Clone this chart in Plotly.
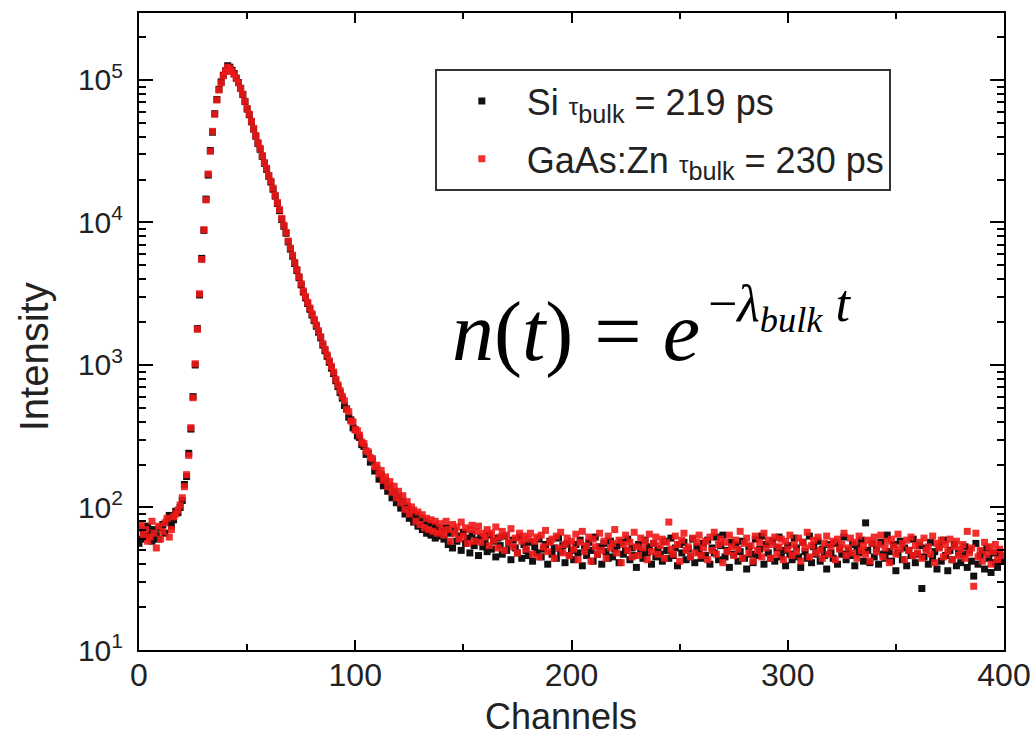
import plotly.graph_objects as go

# ---------------- data ----------------
# Si (black) series, intensity per channel
si_pre = [56, 60, 68, 62, 74, 66, 58, 70, 64, 60, 72, 76, 66, 80, 88, 74, 82, 94, 92, 100]
si_rise = [112, 145, 165, 240, 355, 600, 1000, 1800, 3100, 5600, 8800, 14600, 21500, 32000,
           43000, 58000, 73000, 86000, 97000, 108000, 116000]
si_decay = [126000, 123000, 117000, 111000, 103000, 96000, 87500, 79000, 70500, 62500,
            57000, 50800, 45200, 40300, 35900, 32600, 29100, 26000, 23600, 21100,
            19200, 17100, 15300, 13600, 12100, 10500, 9400, 8400, 7300, 6500,
            5800, 5150, 4600, 4100, 3650, 3250, 2960, 2700, 2460, 2240,
            2050, 1870, 1700, 1550, 1380, 1260, 1150, 1045, 950, 870,
            775, 705, 640, 585, 520, 492, 430, 412, 362, 351,
            318, 310, 276, 268, 236, 238, 208, 212, 180, 186,
            158, 170, 142, 155, 130, 142, 117, 130, 108, 120,
            99, 111, 90, 102, 84, 94, 79, 88, 74, 84,
            70, 80, 66, 77, 64, 74, 61, 72, 63, 68]
si_tail = [60, 72, 55, 66, 52, 69, 58, 63, 50, 67, 56, 61, 48, 65, 54, 59, 46, 62, 53, 57,
           49, 64, 51, 58, 45, 61, 54, 47, 63, 50, 56, 43, 59, 52, 48, 62, 44, 55, 50, 46,
           57, 42, 53, 48, 60, 45, 51, 55, 40, 58, 47, 52, 44, 61, 49, 54, 41, 56, 46, 50,
           43, 55, 48, 59, 39, 52, 46, 57, 50, 42, 62, 47, 53, 40, 56, 49, 44, 58, 45, 51,
           54, 41, 57, 47, 50, 60, 43, 52, 46, 38, 55, 49, 44, 59, 48, 53, 40, 56, 45, 51,
           47, 42, 58, 50, 44, 61, 46, 52, 39, 55, 48, 57, 43, 51, 45, 60, 41, 53, 49, 44,
           56, 46, 59, 40, 52, 48, 62, 43, 54, 64, 45, 50, 38, 57, 47, 55, 42, 49, 58, 44,
           37, 53, 47, 41, 60, 46, 51, 63, 40, 55, 48, 44, 58, 42, 52, 62, 45, 50, 39, 54,
           47, 43, 61, 52, 45, 38, 57, 49, 44, 63, 41, 53, 47, 58, 42, 51, 46, 37, 55, 48,
           44, 56, 40, 52, 47, 62, 43, 50, 46, 55, 39, 53, 48, 59, 42, 78, 50, 41, 56, 45,
           51, 40, 57, 47, 44, 64, 49, 42, 55, 36, 48, 58, 43, 52, 39, 50, 46, 60, 41, 47,
           54, 27, 45, 52, 40, 57, 44, 49, 37, 53, 42, 59, 46, 36, 50, 43, 55, 39, 48, 41,
           47, 53, 38, 50, 42, 33, 56, 40, 46, 49, 37, 52, 44, 35, 48, 41, 38, 47, 42]

# GaAs:Zn (red) series, intensity per channel
gaas_pre = [72, 76, 64, 70, 58, 62, 80, 66, 52, 74, 60, 68, 78, 84, 62, 70, 86, 90, 96, 104]
gaas_rise = [117, 140, 170, 232, 363, 589, 1020, 1780, 3160, 5500, 8900, 14400, 21900, 31600,
             43600, 57500, 72400, 85100, 95500, 107000, 115000]
gaas_decay = [123000, 120200, 114800, 109600, 102300, 95500, 87100, 79400, 70800, 63100,
              57500, 51300, 45700, 40700, 36300, 33100, 29500, 26300, 24000, 21400,
              19500, 17400, 15500, 13800, 12300, 10700, 9550, 8510, 7410, 6610,
              5890, 5250, 4680, 4170, 3720, 3310, 3020, 2750, 2510, 2290,
              2090, 1910, 1740, 1580, 1410, 1290, 1175, 1070, 977, 891,
              794, 724, 661, 603, 560, 488, 470, 405, 398, 352,
              346, 322, 288, 281, 250, 246, 224, 220, 193, 198,
              172, 182, 155, 164, 140, 152, 128, 141, 117, 130,
              108, 121, 97, 110, 90, 101, 96, 80, 93, 76,
              89, 72, 84, 70, 82, 68, 80, 66, 77, 69]
gaas_tail = [64, 80, 70, 58, 76, 66, 73, 60, 79, 63, 72, 56, 70, 75, 58, 68, 74, 57, 66, 62,
             70, 54, 66, 59, 73, 52, 62, 68, 50, 64, 57, 71, 53, 61, 48, 66, 58, 63, 51, 60,
             66, 47, 58, 62, 45, 64, 53, 69, 49, 57, 60, 44, 63, 52, 67, 48, 55, 61, 46, 58,
             51, 65, 43, 57, 68, 49, 54, 62, 42, 60, 53, 47, 66, 50, 58, 44, 63, 52, 56, 70,
             48, 59, 41, 55, 64, 50, 57, 45, 67, 53, 46, 61, 52, 58, 43, 65, 49, 56, 62, 47,
             54, 60, 44, 57, 79, 51, 47, 63, 55, 42, 59, 66, 50, 53, 45, 61, 48, 57, 64, 46,
             52, 58, 43, 62, 50, 67, 47, 55, 60, 41, 57, 49, 64, 53, 46, 59, 51, 68, 44, 56,
             61, 48, 54, 42, 63, 50, 57, 45, 66, 52, 59, 44, 55, 62, 47, 53, 60, 43, 58, 51,
             64, 46, 55, 49, 61, 42, 57, 52, 67, 45, 54, 59, 48, 62, 50, 44, 56, 63, 47, 53,
             58, 43, 60, 51, 55, 66, 46, 52, 61, 48, 57, 44, 63, 50, 54, 47, 59, 42, 56, 62,
             49, 55, 64, 45, 52, 58, 41, 60, 53, 47, 65, 51, 56, 43, 59, 50, 62, 46, 54, 48,
             57, 44, 61, 50, 53, 47, 63, 41, 56, 52, 59, 45, 55, 49, 60, 43, 53, 58, 46, 51,
             55, 44, 68, 48, 52, 28, 66, 45, 50, 42, 57, 47, 53, 40, 49, 55, 43, 51, 46]

si_name = "Si <span style='font-size:24px'>τ</span><sub>bulk</sub> = 219 ps"
gaas_name = "GaAs:Zn <span style='font-size:24px'>τ</span><sub>bulk</sub> = 230 ps"

x_ticks = [0, 100, 200, 300, 400]
x_minor_ticks = [50, 150, 250, 350]
y_ticks = [10, 100, 1000, 10000, 100000]
y_tick_text = ["10<sup>1</sup>", "10<sup>2</sup>", "10<sup>3</sup>", "10<sup>4</sup>", "10<sup>5</sup>"]
y_minor_ticks = [m * d for d in (10, 100, 1000, 10000, 100000) for m in range(2, 10)]

# ---------------- build ----------------
si = si_pre + si_rise + si_decay + si_tail
gaas = gaas_pre + gaas_rise + gaas_decay + gaas_tail
assert len(si) == 400 and len(gaas) == 400, (len(si), len(gaas))
channels = list(range(len(si)))

SANS = "Liberation Sans, Arial, sans-serif"
SERIF = "Liberation Serif, Times New Roman, serif"
TXT = "#222222"

fig = go.Figure()
fig.add_trace(go.Scatter(
    x=channels, y=si, mode="markers", name=si_name, legendgroup="si",
    marker=dict(symbol="square", size=7, color="#111111", line=dict(width=0)),
))
fig.add_trace(go.Scatter(
    x=channels, y=gaas, mode="markers", name=gaas_name, legendgroup="gaas",
    marker=dict(symbol="square", size=7, color="#f01818", opacity=0.9, line=dict(width=0)),
))

fig.update_layout(
    width=1034, height=736,
    margin=dict(l=139, r=30, t=13, b=86, autoexpand=False),
    plot_bgcolor="white", paper_bgcolor="white",
    showlegend=True,
    legend=dict(
        x=0.342, y=0.912, xanchor="left", yanchor="top",
        bgcolor="white", bordercolor="#333333", borderwidth=2,
        font=dict(family=SANS, size=36, color=TXT),
        traceorder="grouped", tracegroupgap=8, itemwidth=80,
    ),
)

fig.update_xaxes(
    range=[0, 400], tickvals=x_ticks, ticks="inside", ticklen=10, tickwidth=2,
    tickcolor="black", automargin=False,
    minor=dict(tickvals=x_minor_ticks, ticks="inside", ticklen=6, tickwidth=1.5,
               tickcolor="black", showgrid=False),
    showline=True, linewidth=2, linecolor="black", mirror="ticks",
    showgrid=False, zeroline=False,
    tickfont=dict(family=SANS, size=32, color=TXT),
    ticklabelstandoff=-4,
)
fig.update_yaxes(
    type="log", range=[1, 5.47], tickvals=y_ticks, ticktext=y_tick_text,
    ticks="inside", ticklen=14, tickwidth=2, tickcolor="black", automargin=False,
    minor=dict(tickvals=y_minor_ticks, ticks="inside", ticklen=7, tickwidth=1.5,
               tickcolor="black", showgrid=False),
    showline=True, linewidth=2, linecolor="black", mirror="ticks",
    showgrid=False, zeroline=False,
    tickfont=dict(family=SANS, size=30, color=TXT),
    ticklabelstandoff=8,
)

# axis titles
fig.add_annotation(
    xref="paper", yref="paper", x=0.488, y=-0.104, xanchor="center", yanchor="middle",
    text="Channels", showarrow=False,
    font=dict(family=SANS, size=36, color=TXT),
)
fig.add_annotation(
    xref="paper", yref="paper", x=-0.121, y=0.46, xanchor="center", yanchor="middle",
    text="Intensity", textangle=-90, showarrow=False,
    font=dict(family=SANS, size=40, color=TXT),
)

# formula
fig.add_annotation(
    xref="paper", yref="paper", x=0.360, y=0.499, xanchor="left", yanchor="middle",
    text="<i>n</i>(<i>t</i>) = <i>e</i>", showarrow=False,
    font=dict(family=SERIF, size=84, color="black"),
)
fig.add_annotation(
    xref="paper", yref="paper", x=0.655, y=0.538, xanchor="left", yanchor="middle",
    text="−<i>λ</i><sub><i>bulk</i></sub> <i>t</i>", showarrow=False,
    font=dict(family=SERIF, size=52, color="black"),
)

fig.write_html("out.html")
